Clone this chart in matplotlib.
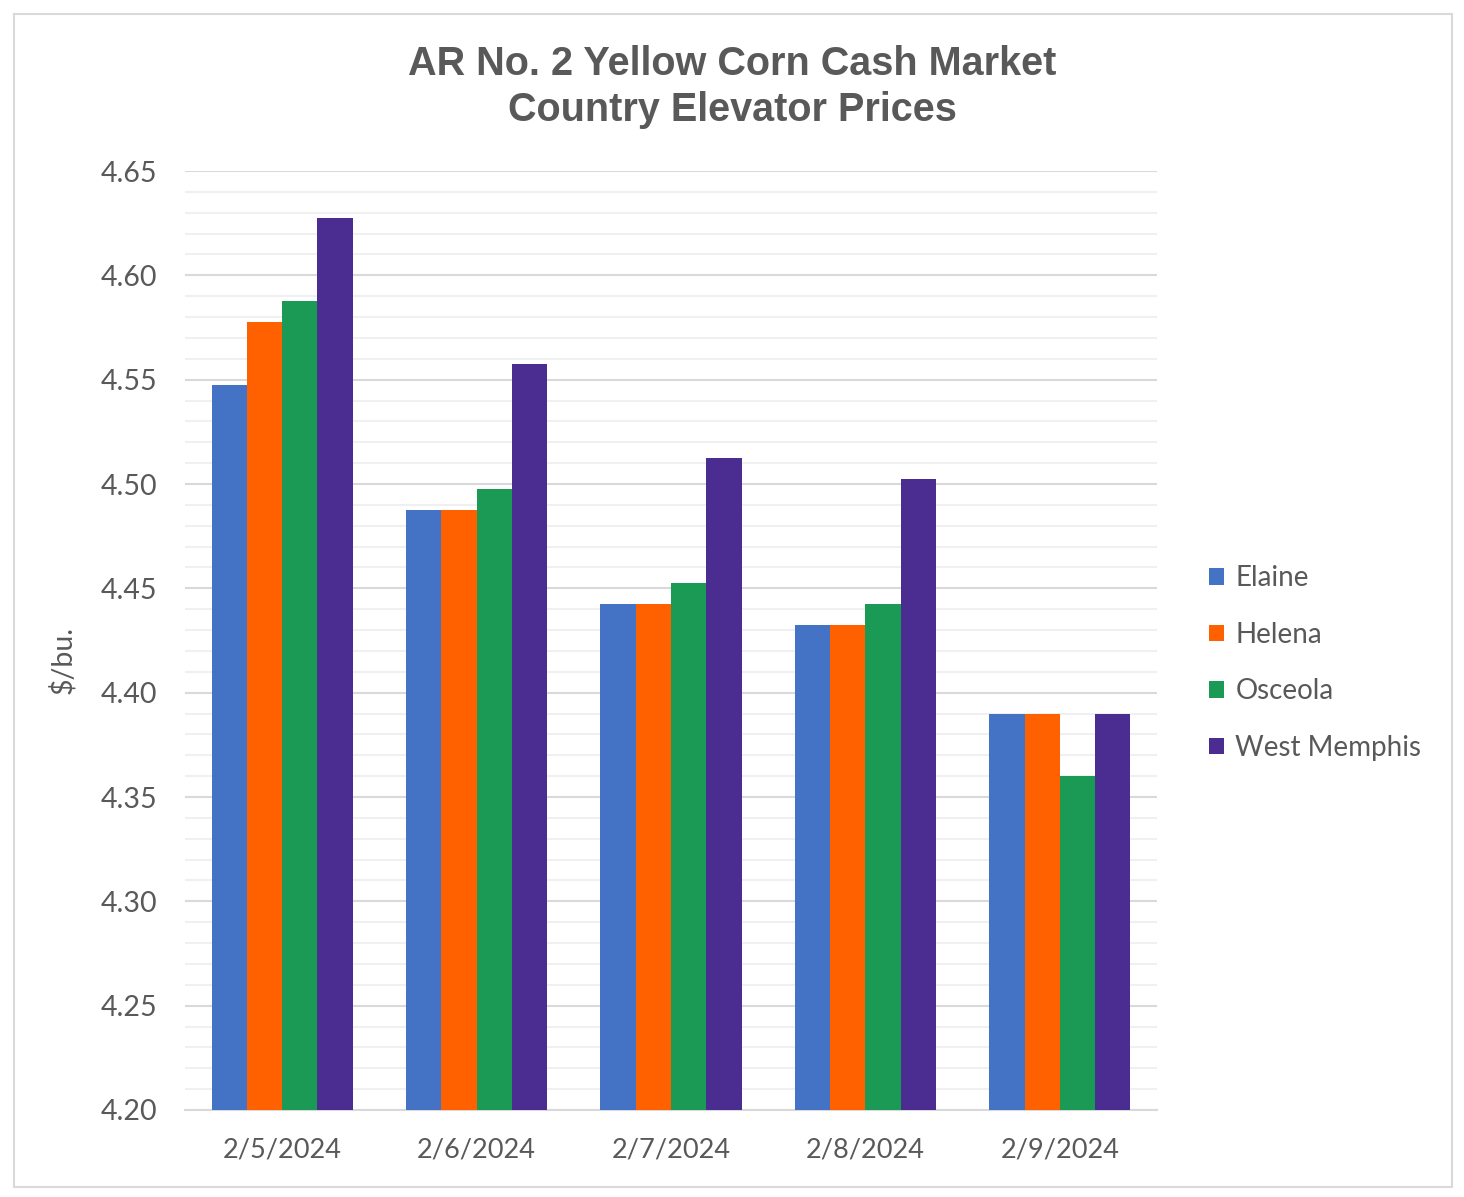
import matplotlib.pyplot as plt
import numpy as np
from matplotlib.patches import Rectangle

# Data
dates = ["2/5/2024", "2/6/2024", "2/7/2024", "2/8/2024", "2/9/2024"]
elaine = [4.5475, 4.4875, 4.4425, 4.4325, 4.39]
helena = [4.5775, 4.4875, 4.4425, 4.4325, 4.39]
osceola = [4.5875, 4.4975, 4.4525, 4.4425, 4.36]
west_memphis = [4.6275, 4.5575, 4.5125, 4.5025, 4.39]

series = [("Elaine", elaine, "#4472C4"),
          ("Helena", helena, "#FF6000"),
          ("Osceola", osceola, "#1A9A55"),
          ("West Memphis", west_memphis, "#4B2C91")]

txt = "#595959"
plt.rcParams['font.family'] = ['Lato', 'DejaVu Sans']

fig = plt.figure(figsize=(14.64, 11.97), dpi=100)
ax = fig.add_axes([185/1464, 1 - 1110/1197, (1157-185)/1464, (1110-171)/1197])

x = np.arange(len(dates))
w = 0.1815
for i, (name, vals, col) in enumerate(series):
    ax.bar(x + (i - 1.5) * w, np.array(vals) - 4.20, width=w, bottom=4.20,
           color=col, label=name, zorder=3)

ax.set_xlim(-0.5, 4.5)
ax.set_ylim(4.20, 4.65)
ax.set_yticks(np.arange(4.20, 4.651, 0.05))
ax.set_yticks(np.arange(4.20, 4.651, 0.01), minor=True)
ax.set_yticklabels([f"{v:.2f}" for v in np.arange(4.20, 4.651, 0.05)])
ax.set_xticks(x)
ax.set_xticklabels(dates)
ax.grid(axis='y', which='major', color='#D9D9D9', linewidth=1.5, zorder=0)
ax.grid(axis='y', which='minor', color='#F0F0F0', linewidth=1.5, zorder=0)
for s in ['top', 'right', 'left']:
    ax.spines[s].set_visible(False)
ax.spines['bottom'].set_color('#D9D9D9')
ax.spines['bottom'].set_linewidth(1.5)
ax.tick_params(axis='y', which='both', length=0, labelsize=20.5, colors=txt, pad=20)
ax.tick_params(axis='x', which='both', length=0, labelsize=19.5, colors=txt, pad=20)

fig.text(62/1464, 1 - 660/1197, "$/bu.", rotation=90, ha='center', va='center',
         fontsize=20.5, color=txt)

fig.text(732/1464, 1 - 87/1197, "AR No. 2 Yellow Corn Cash Market\nCountry Elevator Prices",
         ha='center', va='center', fontsize=28.5, fontweight='bold', color=txt,
         family=['Liberation Sans'], linespacing=1.27)

leg = fig.legend(loc='center left', bbox_to_anchor=(1184/1464, 1 - 663/1197),
                 frameon=False, fontsize=20, handlelength=0.55, handleheight=0.55,
                 handletextpad=0.4, labelspacing=1.1)
for t in leg.get_texts():
    t.set_color(txt)

fig.patches.append(Rectangle((14/1464, 1 - 1187/1197), (1452-14)/1464, (1187-14)/1197,
                             transform=fig.transFigure, fill=False,
                             edgecolor='#D9D9D9', linewidth=1.5))

fig.savefig("out.png", dpi=100)
